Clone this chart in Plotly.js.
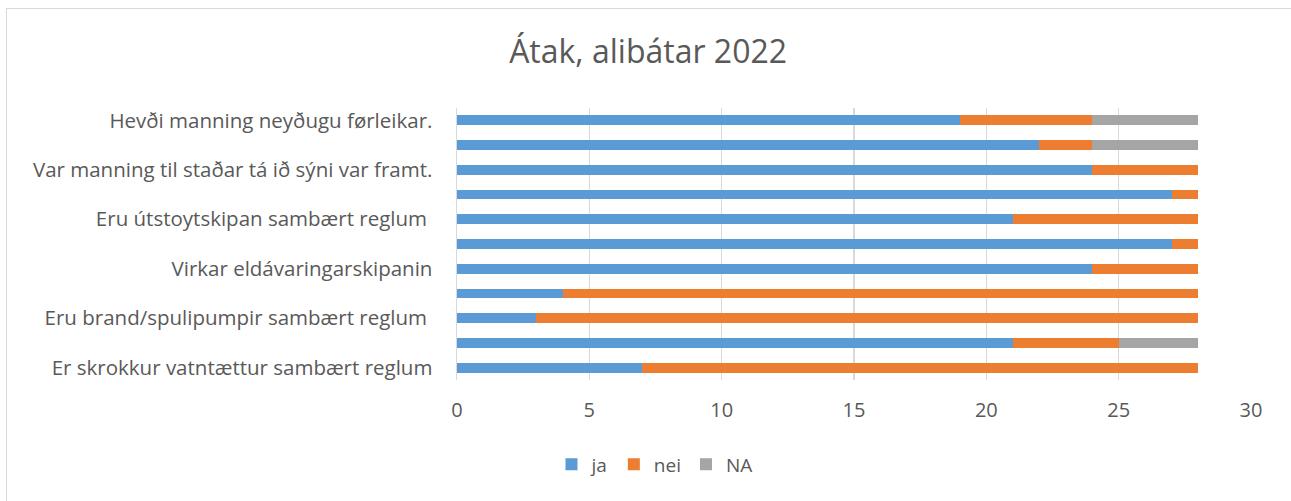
<!DOCTYPE html>
<html>
<head>
<meta charset="utf-8">
<script src="https://cdn.plot.ly/plotly-3.0.1.min.js"></script>
<style>
html,body{margin:0;padding:0;background:#fff;}
#wrap{position:relative;width:1291px;height:501px;overflow:hidden;}
#chart{width:1291px;height:501px;}
#frame{position:absolute;left:6px;top:8px;width:1300px;height:520px;border:1.5px solid #d9d9d9;pointer-events:none;}
</style>
</head>
<body>
<div id="wrap"><div id="chart"></div><div id="frame"></div></div>
<script>
// Categories listed top to bottom; only every other one carries a visible label in the reference
const categories = [
  "Hevði manning neyðugu førleikar.",
  "",
  "Var manning til staðar tá ið sýni var framt.",
  "",
  "Eru útstoytskipan sambært reglum ",
  "",
  "Virkar eldávaringarskipanin",
  "",
  "Eru brand/spulipumpir sambært reglum ",
  "",
  "Er skrokkur vatntættur sambært reglum"
];
const ja  = [19, 22, 24, 27, 21, 27, 24, 4, 3, 21, 7];
const nei = [5, 2, 4, 1, 7, 1, 4, 24, 25, 4, 21];
const na  = [4, 4, 0, 0, 0, 0, 0, 0, 0, 3, 0];
const seriesNames = ["ja", "nei", "NA"];
const colors = ["#5b9bd5", "#ed7d31", "#a5a5a5"];
const xTicks = [0, 5, 10, 15, 20, 25, 30];

// positions: index 0 at top
const n = categories.length;
const ypos = categories.map((c, i) => n - 1 - i);
const tickvals = [], ticktext = [];
categories.forEach((c, i) => { if (c !== "") { tickvals.push(ypos[i]); ticktext.push(c); } });

const font = "Open Sans, Noto Sans, sans-serif";
const traces = [ja, nei, na].map((vals, k) => ({
  type: "bar",
  orientation: "h",
  name: seriesNames[k],
  x: vals,
  y: ypos,
  marker: {color: colors[k], line: {width: 0}},
  hoverinfo: "x+name"
}));

const layout = {
  width: 1291, height: 501,
  paper_bgcolor: "#fff", plot_bgcolor: "#fff",
  barmode: "stack",
  bargap: 0.6,
  margin: {l: 457, r: 40, t: 108, b: 121},
  title: {text: "Átak, alibátar 2022", x: 0.502, xanchor: "center", y: 0.896, yanchor: "middle",
          font: {family: font, size: 32, color: "#595959"}},
  font: {family: font, color: "#595959"},
  xaxis: {
    range: [0, 30], tickvals: xTicks, ticktext: xTicks.map(String),
    showgrid: true, gridcolor: "#d9d9d9", gridwidth: 1.5,
    zeroline: false, showline: false, ticks: "",
    tickfont: {family: font, size: 20, color: "#595959"},
    ticklabelstandoff: 16
  },
  yaxis: {
    range: [-0.5, n - 0.5],
    tickvals: tickvals, ticktext: ticktext,
    showgrid: false, zeroline: false, showline: true,
    linecolor: "#d9d9d9", linewidth: 1.5,
    ticks: "", ticklabelstandoff: 19,
    tickfont: {family: font, size: 20.5, color: "#595959"}
  },
  legend: {
    orientation: "h", x: 0.119, xanchor: "left", y: -0.31, yanchor: "middle",
    font: {family: font, size: 19, color: "#595959"},
    itemwidth: 30, traceorder: "normal"
  },
  showlegend: true
};

Plotly.newPlot("chart", traces, layout, {displayModeBar: false, staticPlot: true});
</script>
</body>
</html>
